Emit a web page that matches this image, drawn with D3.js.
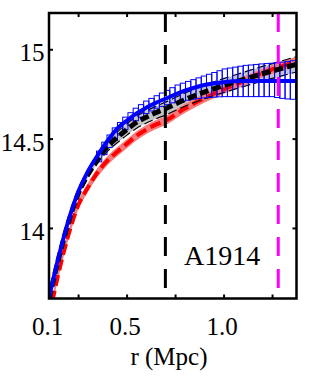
<html><head>
<script src="https://cdnjs.cloudflare.com/ajax/libs/d3/7.8.5/d3.min.js"></script>
<style>
  body { margin: 0; background: white; }
</style>
</head>
<body>
<svg id="chart" width="309" height="384"></svg>
<script>
// radius grid (Mpc) and the curves, log10 M(<r)
const rGrid   = [0.1, 0.15, 0.2, 0.25, 0.3, 0.35, 0.4, 0.45, 0.5, 0.55, 0.6, 0.65, 0.7, 0.8, 0.9, 1.0, 1.1, 1.2, 1.3, 1.376];
const blueLine = [13.61, 13.84, 14.04, 14.20, 14.315, 14.405, 14.485, 14.555, 14.60, 14.64, 14.672, 14.70, 14.723, 14.768, 14.80, 14.816, 14.822, 14.823, 14.823, 14.823];
const blackLine = [13.60, 13.83, 14.03, 14.19, 14.30, 14.385, 14.455, 14.505, 14.55, 14.59, 14.62, 14.645, 14.668, 14.718, 14.76, 14.797, 14.83, 14.863, 14.893, 14.916];
const greyHi = [13.605, 13.84, 14.045, 14.21, 14.322, 14.41, 14.483, 14.535, 14.582, 14.623, 14.654, 14.68, 14.704, 14.755, 14.798, 14.836, 14.87, 14.904, 14.935, 14.959];
const greyLo = [13.595, 13.82, 14.015, 14.17, 14.278, 14.36, 14.427, 14.475, 14.518, 14.557, 14.586, 14.61, 14.632, 14.681, 14.722, 14.758, 14.79, 14.822, 14.851, 14.873];
const redLine = [13.50, 13.75, 13.96, 14.125, 14.225, 14.31, 14.375, 14.425, 14.47, 14.515, 14.55, 14.578, 14.60, 14.668, 14.725, 14.775, 14.82, 14.868, 14.905, 14.933];
const redHi = [13.52, 13.775, 13.985, 14.15, 14.25, 14.335, 14.40, 14.45, 14.495, 14.54, 14.575, 14.603, 14.625, 14.693, 14.75, 14.80, 14.845, 14.893, 14.93, 14.958];
const redLo = [13.48, 13.725, 13.935, 14.10, 14.20, 14.285, 14.35, 14.40, 14.445, 14.49, 14.525, 14.553, 14.575, 14.643, 14.70, 14.75, 14.795, 14.843, 14.88, 14.908];

// blue error boxes: left edge of each bin, upper and lower values
const blueBinR = [0.345, 0.372, 0.399, 0.426, 0.453, 0.480, 0.507, 0.534, 0.561, 0.588, 0.615, 0.642, 0.669, 0.696, 0.723, 0.750, 0.777, 0.804, 0.831, 0.858, 0.885, 0.912, 0.939, 0.966, 0.993, 1.020, 1.047, 1.074, 1.101, 1.128, 1.155, 1.182, 1.209, 1.236, 1.263, 1.290, 1.317, 1.344, 1.371];
const blueBinHi = [14.43, 14.48, 14.52, 14.56, 14.59, 14.62, 14.645, 14.67, 14.69, 14.71, 14.725, 14.74, 14.755, 14.77, 14.785, 14.80, 14.81, 14.82, 14.83, 14.84, 14.85, 14.86, 14.87, 14.88, 14.89, 14.895, 14.90, 14.905, 14.91, 14.912, 14.915, 14.918, 14.92, 14.922, 14.925, 14.928, 14.932, 14.936, 14.94];
const blueBinLo = [14.37, 14.41, 14.45, 14.49, 14.52, 14.55, 14.575, 14.60, 14.62, 14.64, 14.655, 14.67, 14.68, 14.69, 14.70, 14.705, 14.71, 14.715, 14.72, 14.725, 14.728, 14.73, 14.732, 14.734, 14.735, 14.735, 14.735, 14.735, 14.735, 14.735, 14.735, 14.735, 14.735, 14.735, 14.73, 14.725, 14.722, 14.72, 14.72];
const binWidth = 0.027;

const rMarkBlack = 0.70;
const rMarkMagenta = 1.282;

const xTicks = [0.25, 0.5, 0.75, 1.0, 1.25];
const xLabels = [0.1, 0.5, 1.0];
const yTicks = [14, 14.5, 15];
const clusterName = "A1914";
const xTitle = "r (Mpc)";

const serif = "'Liberation Serif', 'Times New Roman', Times, 'DejaVu Serif', serif";

let svg = d3.select("#chart");
let pLeft = 49, pRight = 296.5, pTop = 13, pBottom = 298.5;

let x = d3.scaleLinear().domain([0.1, 1.376]).range([pLeft, pRight]);
let y = d3.scaleLinear().domain([13.605, 15.203]).range([pBottom, pTop]);

svg.append("clipPath").attr("id", "clip")
  .append("rect").attr("x", pLeft).attr("y", pTop)
  .attr("width", pRight - pLeft).attr("height", pBottom - pTop);

let plot = svg.append("g").attr("clip-path", "url(#clip)");

function band(hi, lo) {
  return d3.area()
    .x((d, i) => x(rGrid[i]))
    .y0((d, i) => y(lo[i]))
    .y1((d, i) => y(hi[i]))
    .curve(d3.curveMonotoneX)(rGrid);
}
function curve(vals) {
  return d3.line()
    .x((d, i) => x(rGrid[i]))
    .y(d => y(d))
    .curve(d3.curveMonotoneX)(vals);
}

// grey band + red band
plot.append("path").attr("d", band(greyHi, greyLo)).style("fill", "#c4c4c4");
plot.append("path").attr("d", band(redHi, redLo)).style("fill", "#f77a7a");
plot.append("path").attr("d", curve(redLine))
  .style("fill", "none").style("stroke", "#ff0000")
  .style("stroke-width", 4).style("stroke-dasharray", "11,5");

// thin black edges of grey band
[greyHi, greyLo].forEach(function(v) {
  plot.append("path").attr("d", curve(v))
    .style("fill", "none").style("stroke", "black")
    .style("stroke-width", 1.2).style("stroke-dasharray", "9,4");
});

// blue error boxes
blueBinR.forEach(function(r, i) {
  plot.append("rect")
    .attr("x", x(r))
    .attr("y", y(blueBinHi[i]))
    .attr("width", x(r + binWidth) - x(r))
    .attr("height", y(blueBinLo[i]) - y(blueBinHi[i]))
    .style("fill", "none").style("stroke", "#0000ff").style("stroke-width", 1);
});

plot.append("path").attr("d", curve(blackLine))
  .style("fill", "none").style("stroke", "black")
  .style("stroke-width", 5).style("stroke-dasharray", "9,4");

plot.append("path").attr("d", curve(blueLine))
  .style("fill", "none").style("stroke", "#0000ff").style("stroke-width", 4);

// vertical markers
plot.append("line").attr("x1", x(rMarkBlack)).attr("x2", x(rMarkBlack))
  .attr("y1", pTop).attr("y2", pBottom)
  .style("stroke", "black").style("stroke-width", 3).style("stroke-dasharray", "19,13");
plot.append("line").attr("x1", x(rMarkMagenta)).attr("x2", x(rMarkMagenta))
  .attr("y1", pTop).attr("y2", pBottom)
  .style("stroke", "#ff00ff").style("stroke-width", 3).style("stroke-dasharray", "19,13");

plot.append("text").attr("x", 184).attr("y", 264.5)
  .style("font-family", serif).style("font-size", "28px").text(clusterName);

// frame and ticks
svg.append("rect").attr("x", pLeft).attr("y", pTop)
  .attr("width", pRight - pLeft).attr("height", pBottom - pTop)
  .style("fill", "none").style("stroke", "black").style("stroke-width", 2.5);

function tickStyle(g) {
  g.select(".domain").remove();
  g.selectAll("line").style("stroke", "black").style("stroke-width", 2);
}
svg.append("g").attr("transform", `translate(0,${pBottom})`)
  .call(d3.axisBottom(x).tickValues(xTicks).tickSize(-4).tickFormat("")).call(tickStyle);
svg.append("g").attr("transform", `translate(0,${pTop})`)
  .call(d3.axisTop(x).tickValues(xTicks).tickSize(-4).tickFormat("")).call(tickStyle);
svg.append("g").attr("transform", `translate(${pLeft},0)`)
  .call(d3.axisLeft(y).tickValues(yTicks).tickSize(-4).tickFormat("")).call(tickStyle);
svg.append("g").attr("transform", `translate(${pRight},0)`)
  .call(d3.axisRight(y).tickValues(yTicks).tickSize(-4).tickFormat("")).call(tickStyle);

// labels
svg.selectAll(".ylab").data(yTicks).enter().append("text")
  .attr("x", 44.5).attr("y", d => y(d) + 12)
  .attr("text-anchor", "end")
  .style("font-family", serif).style("font-size", "25px")
  .text(d => d);
svg.selectAll(".xlab").data(xLabels).enter().append("text")
  .attr("x", d => x(d) - 1.5).attr("y", 335)
  .attr("text-anchor", "middle")
  .style("font-family", serif).style("font-size", "25px")
  .text(d => d3.format(".1f")(d));
svg.append("text").attr("x", 169).attr("y", 365)
  .attr("text-anchor", "middle")
  .style("font-family", serif).style("font-size", "25px").text(xTitle);
</script>
</body>
</html>
